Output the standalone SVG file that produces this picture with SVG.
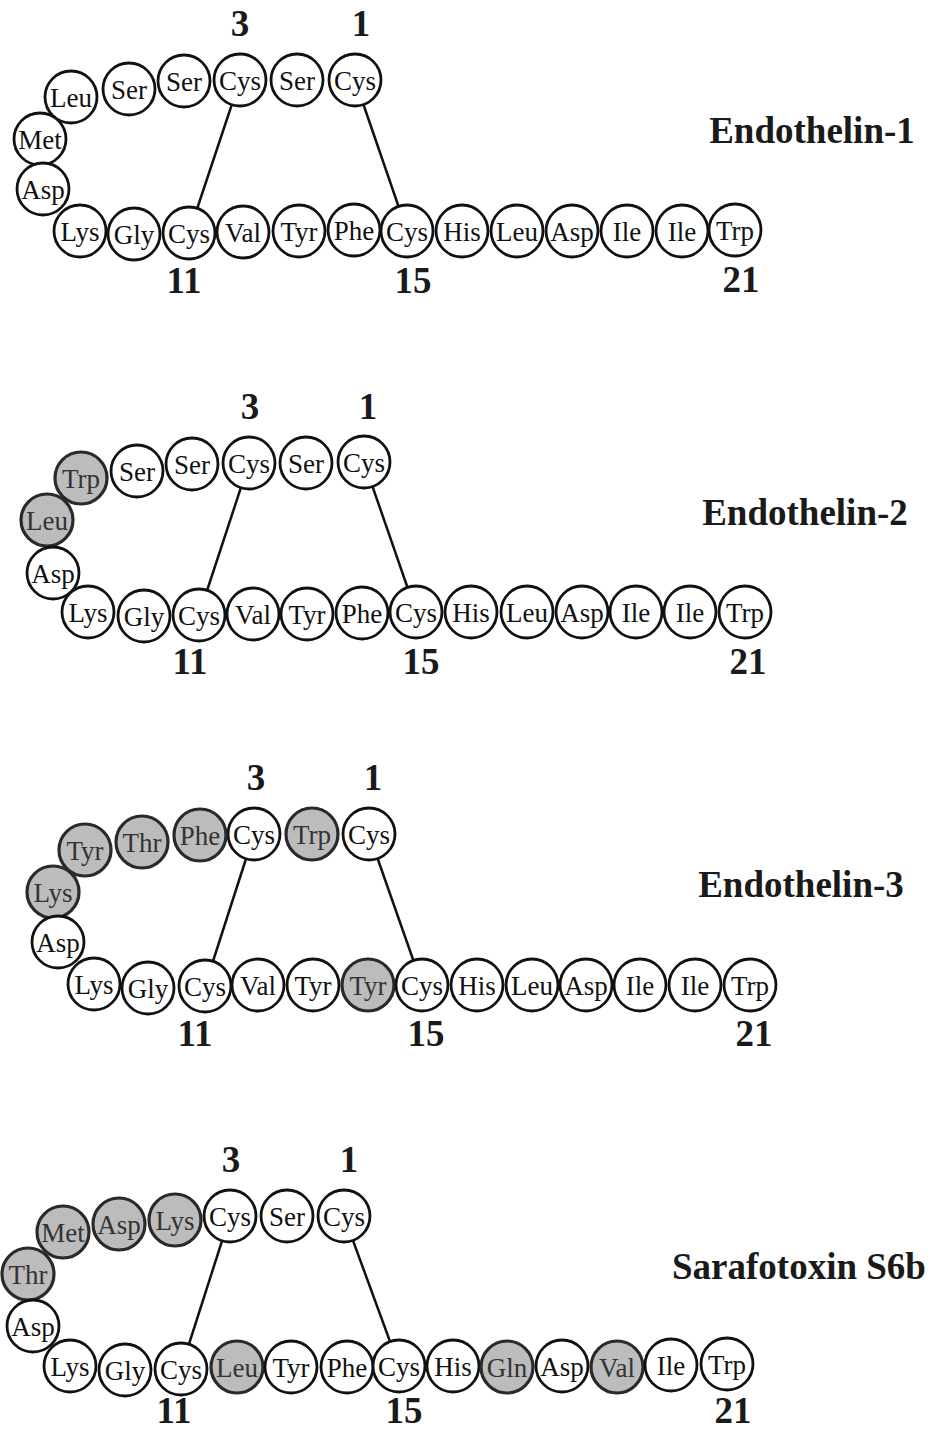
<svg xmlns="http://www.w3.org/2000/svg" width="933" height="1431" viewBox="0 0 933 1431">
<style>
.c{fill:#fff;stroke:#111;stroke-width:2.8}
.g{fill:#bcbcbc;stroke:#2a2a2a;stroke-width:3.2}
.t{font-family:"Liberation Serif","Times New Roman",serif;font-size:27px;text-anchor:middle;fill:#111}
.tg{font-family:"Liberation Serif","Times New Roman",serif;font-size:27px;text-anchor:middle;fill:#333}
.n{font-family:"Liberation Serif","Times New Roman",serif;font-size:37px;font-weight:bold;text-anchor:middle;fill:#1a1a1a}
.ti{font-family:"Liberation Serif","Times New Roman",serif;font-size:37px;font-weight:bold;text-anchor:middle;fill:#1a1a1a}
.l{stroke:#111;stroke-width:2.5;fill:none}
</style>
<g id="connectors">
<line class="l" x1="240" y1="80" x2="189" y2="233"/>
<line class="l" x1="355" y1="80" x2="407" y2="231"/>
<line class="l" x1="249" y1="463" x2="199" y2="615"/>
<line class="l" x1="364" y1="462" x2="416" y2="612"/>
<line class="l" x1="254" y1="834" x2="205" y2="986"/>
<line class="l" x1="369" y1="834" x2="422" y2="985"/>
<line class="l" x1="230" y1="1216" x2="181" y2="1369"/>
<line class="l" x1="344" y1="1216" x2="399" y2="1366"/>
</g>
<g id="et1">
<g id="et1-r1"><circle class="c" cx="355" cy="80" r="26"/><text class="t" x="355" y="90">Cys</text></g>
<g id="et1-r2"><circle class="c" cx="297" cy="80" r="26"/><text class="t" x="297" y="90">Ser</text></g>
<g id="et1-r3"><circle class="c" cx="240" cy="80" r="26"/><text class="t" x="240" y="90">Cys</text></g>
<g id="et1-r4"><circle class="c" cx="184" cy="81" r="26"/><text class="t" x="184" y="91">Ser</text></g>
<g id="et1-r5"><circle class="c" cx="129" cy="89" r="26"/><text class="t" x="129" y="99">Ser</text></g>
<g id="et1-r6"><circle class="c" cx="71" cy="97" r="26"/><text class="t" x="71" y="107">Leu</text></g>
<g id="et1-r7"><circle class="c" cx="40" cy="139" r="26"/><text class="t" x="40" y="149">Met</text></g>
<g id="et1-r8"><circle class="c" cx="43" cy="189" r="26"/><text class="t" x="43" y="199">Asp</text></g>
<g id="et1-r9"><circle class="c" cx="80" cy="231" r="26"/><text class="t" x="80" y="241">Lys</text></g>
<g id="et1-r10"><circle class="c" cx="134" cy="234" r="26"/><text class="t" x="134" y="244">Gly</text></g>
<g id="et1-r11"><circle class="c" cx="189" cy="233" r="26"/><text class="t" x="189" y="243">Cys</text></g>
<g id="et1-r12"><circle class="c" cx="243" cy="232" r="26"/><text class="t" x="243" y="242">Val</text></g>
<g id="et1-r13"><circle class="c" cx="299" cy="231" r="26"/><text class="t" x="299" y="241">Tyr</text></g>
<g id="et1-r14"><circle class="c" cx="354" cy="230" r="26"/><text class="t" x="354" y="240">Phe</text></g>
<g id="et1-r15"><circle class="c" cx="407" cy="231" r="26"/><text class="t" x="407" y="241">Cys</text></g>
<g id="et1-r16"><circle class="c" cx="462" cy="231" r="26"/><text class="t" x="462" y="241">His</text></g>
<g id="et1-r17"><circle class="c" cx="517" cy="231" r="26"/><text class="t" x="517" y="241">Leu</text></g>
<g id="et1-r18"><circle class="c" cx="572" cy="231" r="26"/><text class="t" x="572" y="241">Asp</text></g>
<g id="et1-r19"><circle class="c" cx="627" cy="231" r="26"/><text class="t" x="627" y="241">Ile</text></g>
<g id="et1-r20"><circle class="c" cx="682" cy="231" r="26"/><text class="t" x="682" y="241">Ile</text></g>
<g id="et1-r21"><circle class="c" cx="735" cy="230" r="26"/><text class="t" x="735" y="240">Trp</text></g>
<text class="n" x="240" y="36">3</text><text class="n" x="361" y="36">1</text>
<text class="n" x="184" y="293">11</text><text class="n" x="413" y="293">15</text><text class="n" x="741" y="292">21</text>
<text class="ti" x="812" y="143">Endothelin-1</text>
</g>
<g id="et2">
<g id="et2-r1"><circle class="c" cx="364" cy="462" r="26"/><text class="t" x="364" y="472">Cys</text></g>
<g id="et2-r2"><circle class="c" cx="306" cy="463" r="26"/><text class="t" x="306" y="473">Ser</text></g>
<g id="et2-r3"><circle class="c" cx="249" cy="463" r="26"/><text class="t" x="249" y="473">Cys</text></g>
<g id="et2-r4"><circle class="c" cx="192" cy="464" r="26"/><text class="t" x="192" y="474">Ser</text></g>
<g id="et2-r5"><circle class="c" cx="137" cy="471" r="26"/><text class="t" x="137" y="481">Ser</text></g>
<g id="et2-r6"><circle class="g" cx="81" cy="478" r="26"/><text class="tg" x="81" y="488">Trp</text></g>
<g id="et2-r7"><circle class="g" cx="47" cy="520" r="26"/><text class="tg" x="47" y="530">Leu</text></g>
<g id="et2-r8"><circle class="c" cx="53" cy="573" r="26"/><text class="t" x="53" y="583">Asp</text></g>
<g id="et2-r9"><circle class="c" cx="88" cy="612" r="26"/><text class="t" x="88" y="622">Lys</text></g>
<g id="et2-r10"><circle class="c" cx="144" cy="616" r="26"/><text class="t" x="144" y="626">Gly</text></g>
<g id="et2-r11"><circle class="c" cx="199" cy="615" r="26"/><text class="t" x="199" y="625">Cys</text></g>
<g id="et2-r12"><circle class="c" cx="253" cy="614" r="26"/><text class="t" x="253" y="624">Val</text></g>
<g id="et2-r13"><circle class="c" cx="307" cy="614" r="26"/><text class="t" x="307" y="624">Tyr</text></g>
<g id="et2-r14"><circle class="c" cx="362" cy="613" r="26"/><text class="t" x="362" y="623">Phe</text></g>
<g id="et2-r15"><circle class="c" cx="416" cy="612" r="26"/><text class="t" x="416" y="622">Cys</text></g>
<g id="et2-r16"><circle class="c" cx="471" cy="612" r="26"/><text class="t" x="471" y="622">His</text></g>
<g id="et2-r17"><circle class="c" cx="527" cy="612" r="26"/><text class="t" x="527" y="622">Leu</text></g>
<g id="et2-r18"><circle class="c" cx="582" cy="612" r="26"/><text class="t" x="582" y="622">Asp</text></g>
<g id="et2-r19"><circle class="c" cx="636" cy="612" r="26"/><text class="t" x="636" y="622">Ile</text></g>
<g id="et2-r20"><circle class="c" cx="690" cy="612" r="26"/><text class="t" x="690" y="622">Ile</text></g>
<g id="et2-r21"><circle class="c" cx="745" cy="612" r="26"/><text class="t" x="745" y="622">Trp</text></g>
<text class="n" x="250" y="419">3</text><text class="n" x="368" y="419">1</text>
<text class="n" x="190" y="674">11</text><text class="n" x="421" y="674">15</text><text class="n" x="748" y="674">21</text>
<text class="ti" x="805" y="525">Endothelin-2</text>
</g>
<g id="et3">
<g id="et3-r1"><circle class="c" cx="369" cy="834" r="26"/><text class="t" x="369" y="844">Cys</text></g>
<g id="et3-r2"><circle class="g" cx="312" cy="834" r="26"/><text class="tg" x="312" y="844">Trp</text></g>
<g id="et3-r3"><circle class="c" cx="254" cy="834" r="26"/><text class="t" x="254" y="844">Cys</text></g>
<g id="et3-r4"><circle class="g" cx="200" cy="835" r="26"/><text class="tg" x="200" y="845">Phe</text></g>
<g id="et3-r5"><circle class="g" cx="142" cy="842" r="26"/><text class="tg" x="142" y="852">Thr</text></g>
<g id="et3-r6"><circle class="g" cx="85" cy="850" r="26"/><text class="tg" x="85" y="860">Tyr</text></g>
<g id="et3-r7"><circle class="g" cx="53" cy="892" r="26"/><text class="tg" x="53" y="902">Lys</text></g>
<g id="et3-r8"><circle class="c" cx="58" cy="942" r="26"/><text class="t" x="58" y="952">Asp</text></g>
<g id="et3-r9"><circle class="c" cx="94" cy="984" r="26"/><text class="t" x="94" y="994">Lys</text></g>
<g id="et3-r10"><circle class="c" cx="148" cy="988" r="26"/><text class="t" x="148" y="998">Gly</text></g>
<g id="et3-r11"><circle class="c" cx="205" cy="986" r="26"/><text class="t" x="205" y="996">Cys</text></g>
<g id="et3-r12"><circle class="c" cx="258" cy="985" r="26"/><text class="t" x="258" y="995">Val</text></g>
<g id="et3-r13"><circle class="c" cx="313" cy="985" r="26"/><text class="t" x="313" y="995">Tyr</text></g>
<g id="et3-r14"><circle class="g" cx="368" cy="985" r="26"/><text class="tg" x="368" y="995">Tyr</text></g>
<g id="et3-r15"><circle class="c" cx="422" cy="985" r="26"/><text class="t" x="422" y="995">Cys</text></g>
<g id="et3-r16"><circle class="c" cx="477" cy="985" r="26"/><text class="t" x="477" y="995">His</text></g>
<g id="et3-r17"><circle class="c" cx="532" cy="985" r="26"/><text class="t" x="532" y="995">Leu</text></g>
<g id="et3-r18"><circle class="c" cx="586" cy="985" r="26"/><text class="t" x="586" y="995">Asp</text></g>
<g id="et3-r19"><circle class="c" cx="640" cy="985" r="26"/><text class="t" x="640" y="995">Ile</text></g>
<g id="et3-r20"><circle class="c" cx="695" cy="985" r="26"/><text class="t" x="695" y="995">Ile</text></g>
<g id="et3-r21"><circle class="c" cx="750" cy="985" r="26"/><text class="t" x="750" y="995">Trp</text></g>
<text class="n" x="256" y="790">3</text><text class="n" x="373" y="790">1</text>
<text class="n" x="195" y="1046">11</text><text class="n" x="426" y="1046">15</text><text class="n" x="754" y="1046">21</text>
<text class="ti" x="801" y="897">Endothelin-3</text>
</g>
<g id="s6b">
<g id="s6b-r1"><circle class="c" cx="344" cy="1216" r="26"/><text class="t" x="344" y="1226">Cys</text></g>
<g id="s6b-r2"><circle class="c" cx="287" cy="1216" r="26"/><text class="t" x="287" y="1226">Ser</text></g>
<g id="s6b-r3"><circle class="c" cx="230" cy="1216" r="26"/><text class="t" x="230" y="1226">Cys</text></g>
<g id="s6b-r4"><circle class="g" cx="175" cy="1220" r="26"/><text class="tg" x="175" y="1230">Lys</text></g>
<g id="s6b-r5"><circle class="g" cx="119" cy="1224" r="26"/><text class="tg" x="119" y="1234">Asp</text></g>
<g id="s6b-r6"><circle class="g" cx="63" cy="1232" r="26"/><text class="tg" x="63" y="1242">Met</text></g>
<g id="s6b-r7"><circle class="g" cx="28" cy="1274" r="26"/><text class="tg" x="28" y="1284">Thr</text></g>
<g id="s6b-r8"><circle class="c" cx="33" cy="1326" r="26"/><text class="t" x="33" y="1336">Asp</text></g>
<g id="s6b-r9"><circle class="c" cx="70" cy="1366" r="26"/><text class="t" x="70" y="1376">Lys</text></g>
<g id="s6b-r10"><circle class="c" cx="125" cy="1370" r="26"/><text class="t" x="125" y="1380">Gly</text></g>
<g id="s6b-r11"><circle class="c" cx="181" cy="1369" r="26"/><text class="t" x="181" y="1379">Cys</text></g>
<g id="s6b-r12"><circle class="g" cx="237" cy="1367" r="26"/><text class="tg" x="237" y="1377">Leu</text></g>
<g id="s6b-r13"><circle class="c" cx="291" cy="1367" r="26"/><text class="t" x="291" y="1377">Tyr</text></g>
<g id="s6b-r14"><circle class="c" cx="347" cy="1367" r="26"/><text class="t" x="347" y="1377">Phe</text></g>
<g id="s6b-r15"><circle class="c" cx="399" cy="1366" r="26"/><text class="t" x="399" y="1376">Cys</text></g>
<g id="s6b-r16"><circle class="c" cx="453" cy="1366" r="26"/><text class="t" x="453" y="1376">His</text></g>
<g id="s6b-r17"><circle class="g" cx="507" cy="1367" r="26"/><text class="tg" x="507" y="1377">Gln</text></g>
<g id="s6b-r18"><circle class="c" cx="562" cy="1366" r="26"/><text class="t" x="562" y="1376">Asp</text></g>
<g id="s6b-r19"><circle class="g" cx="617" cy="1367" r="26"/><text class="tg" x="617" y="1377">Val</text></g>
<g id="s6b-r20"><circle class="c" cx="671" cy="1365" r="26"/><text class="t" x="671" y="1375">Ile</text></g>
<g id="s6b-r21"><circle class="c" cx="727" cy="1364" r="26"/><text class="t" x="727" y="1374">Trp</text></g>
<text class="n" x="231" y="1172">3</text><text class="n" x="349" y="1172">1</text>
<text class="n" x="174" y="1423">11</text><text class="n" x="404" y="1423">15</text><text class="n" x="733" y="1423">21</text>
<text class="ti" x="799" y="1279">Sarafotoxin S6b</text>
</g>
</svg>
